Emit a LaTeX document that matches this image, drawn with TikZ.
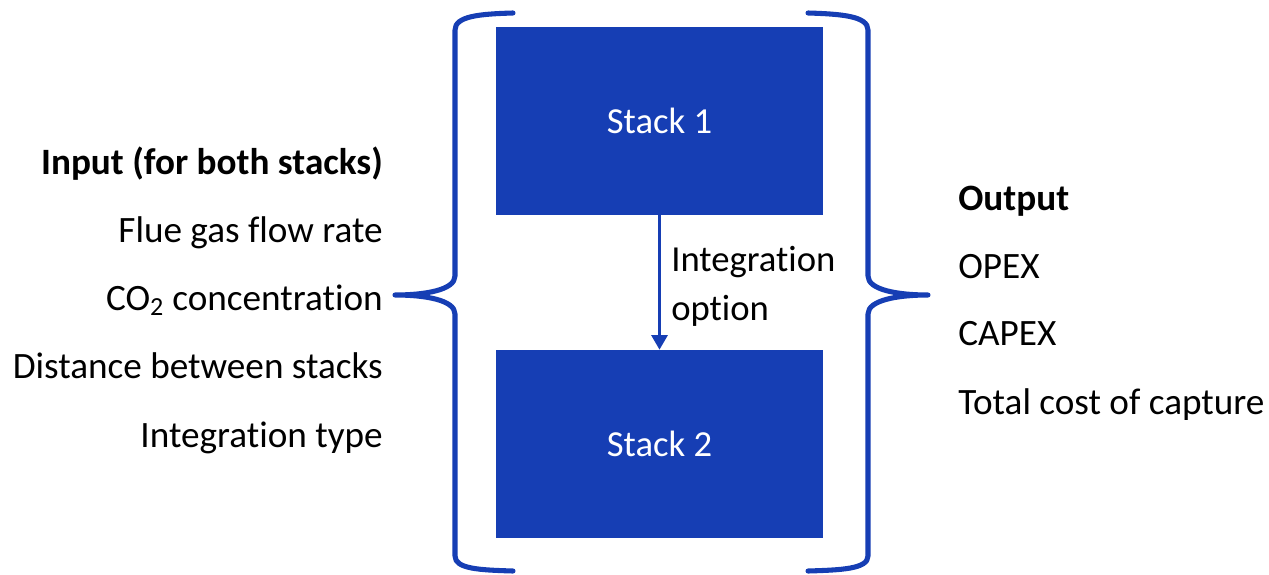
\documentclass[tikz,border=0pt]{standalone}
\usepackage{fontspec}
\setmainfont[Ligatures={NoCommon}]{Carlito}
\usetikzlibrary{arrows.meta}
\definecolor{stackblue}{RGB}{22,62,180}
\tikzset{
  stackbox/.style={fill=stackblue, draw=none, minimum width=245.25pt, minimum height=141pt, text=white, font=\fontsize{27.5}{33}\selectfont},
  lbl/.style={font=\fontsize{27.9}{33}\selectfont, inner sep=0pt, text=black},
  brace/.style={draw=stackblue, line width=3.8pt, line cap=round, line join=round},
  flow/.style={draw=stackblue, line width=2.3pt, -{Triangle[length=11pt, width=12pt]}}
}
\begin{document}
\begin{tikzpicture}[x=0.75pt, y=-0.75pt]
  \useasboundingbox (0,0) rectangle (1269,574);
  % the two stacks
  \node[stackbox] (s1) at (659.5,121) {Stack 1};
  \node[stackbox] (s2) at (659.5,444) {Stack 2};
  \draw[flow] (s1.south) -- (s2.north);
  \node[lbl, anchor=west, align=left, font=\fontsize{27.5}{36.75}\selectfont] (opt) at (671,286) {Integration\\option};
  % input list
  \node[lbl, anchor=mid east, font=\fontsize{27.9}{33}\selectfont\bfseries] (in) at (383,171) {Input (for both stacks)};
  \node[lbl, anchor=mid east] (i1) at (383,239) {Flue gas flow rate};
  \node[lbl, anchor=mid east] (i2) at (383,307) {CO\textsubscript{2} concentration};
  \node[lbl, anchor=mid east] (i3) at (383,375) {Distance between stacks};
  \node[lbl, anchor=mid east] (i4) at (383,444) {Integration type};
  % output list
  \node[lbl, anchor=mid west, font=\fontsize{27.9}{33}\selectfont\bfseries] (out) at (958,207) {Output};
  \node[lbl, anchor=mid west] (o1) at (958,275) {OPEX};
  \node[lbl, anchor=mid west] (o2) at (958,342) {CAPEX};
  \node[lbl, anchor=mid west] (o3) at (958,411) {Total cost of capture};
  % braces
  \coordinate (lt) at (513,13);
  \coordinate (lb) at (513,571);
  \coordinate (lm) at (395,295);
  \draw[brace] (lt) .. controls (480,14) and (455,16) .. (455,30) -- (455,276)
    .. controls (455,290) and (425,295) .. (lm)
    .. controls (425,295) and (455,300) .. (455,314) -- (455,556)
    .. controls (455,569) and (480,570) .. (lb);
  \coordinate (rt) at (808,13);
  \coordinate (rb) at (808,571);
  \coordinate (rm) at (928,295);
  \draw[brace] (rt) .. controls (841,14) and (868,16) .. (868,30) -- (868,276)
    .. controls (868,290) and (898,295) .. (rm)
    .. controls (898,295) and (868,300) .. (868,314) -- (868,556)
    .. controls (868,569) and (841,570) .. (rb);
\end{tikzpicture}
\end{document}
